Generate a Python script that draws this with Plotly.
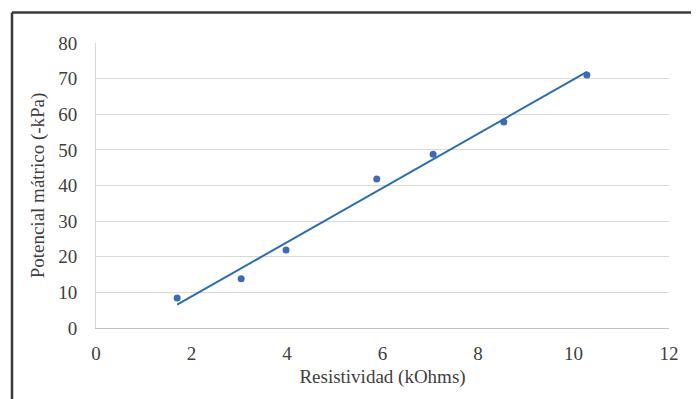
import numpy as np
import plotly.graph_objects as go

resistividad = [1.70, 3.04, 3.98, 5.88, 7.06, 8.54, 10.28]
potencial = [8.4, 13.8, 21.9, 41.8, 48.8, 57.8, 71.0]
x_ticks = [0, 2, 4, 6, 8, 10, 12]
y_ticks = [0, 10, 20, 30, 40, 50, 60, 70, 80]

slope, intercept = np.polyfit(resistividad, potencial, 1)
fit_x = [min(resistividad), max(resistividad)]
fit_y = [slope * v + intercept for v in fit_x]

# the page body adds an 8px offset, so figure coords are screen coords minus 8
W, H = 699, 399
L, T = 88, 35
pw, ph = 573, 285
R, B = W - L - pw, H - T - ph

fig = go.Figure()
fig.add_trace(go.Scatter(x=resistividad, y=potencial, mode="markers",
                         marker=dict(color="#3d6bb5", size=7), showlegend=False))
fig.add_trace(go.Scatter(x=fit_x, y=fit_y, mode="lines",
                         line=dict(color="#2a6db0", width=2), showlegend=False))

font = dict(family="Liberation Serif, Times New Roman, serif", size=19, color="#404040")
fig.update_layout(
    width=W, height=H,
    margin=dict(l=L, r=R, t=T, b=B, autoexpand=False),
    paper_bgcolor="white", plot_bgcolor="white",
    font=font,
    xaxis=dict(range=[0, 12], tickvals=x_ticks, showgrid=False, zeroline=False,
               showline=True, linecolor="#bfbfbf", linewidth=1,
               ticks="outside", ticklen=8, tickcolor="rgba(0,0,0,0)",
               title=dict(text="Resistividad (kOhms)", standoff=6, font=font)),
    yaxis=dict(range=[0, 80], tickvals=y_ticks, showgrid=True, gridcolor="#d9d9d9",
               zeroline=False, showline=True, linecolor="#d9d9d9", linewidth=1,
               ticks="outside", ticklen=14, tickcolor="rgba(0,0,0,0)",
               title=dict(text="Potencial mátrico (-kPa)", standoff=8, font=font)),
)

# outer frame of the figure box (top and left edges visible)
fx0 = (4 - L) / pw
fy1 = 1 + (T - 4.5) / ph
frame = dict(color="#3a3a3a", width=2.5)
fig.add_shape(type="line", xref="paper", yref="paper",
              x0=fx0, x1=1 + R / pw, y0=fy1, y1=fy1, line=frame, layer="above")
fig.add_shape(type="line", xref="paper", yref="paper",
              x0=fx0, x1=fx0, y0=fy1, y1=-B / ph, line=frame, layer="above")

fig.write_html("out.html")
